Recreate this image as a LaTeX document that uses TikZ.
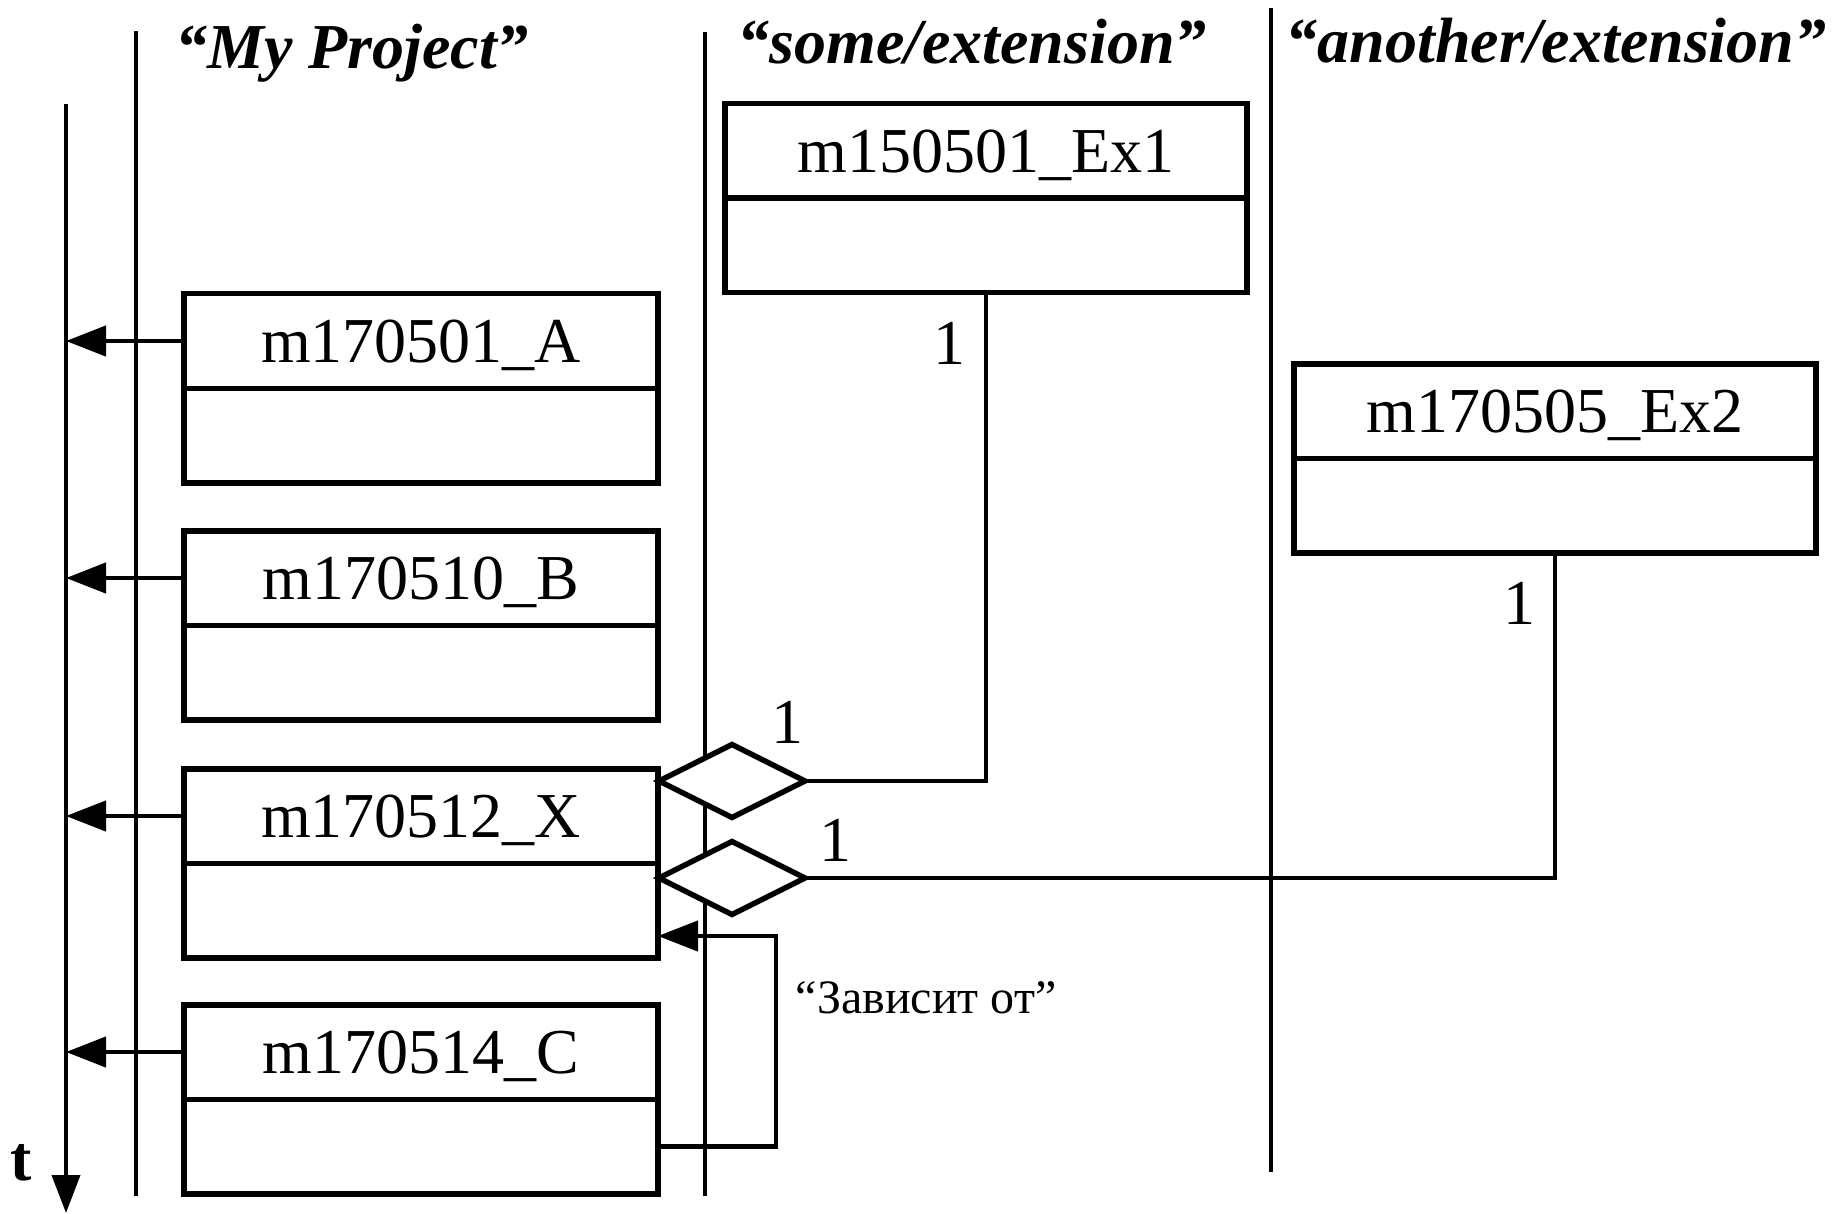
\documentclass[tikz,border=0pt]{standalone}
\usepackage{fontspec}
\setmainfont{Liberation Serif}
\usetikzlibrary{arrows.meta,shapes.geometric,calc}
\begin{document}
\begin{tikzpicture}[x=1pt,y=-1pt,
  part/.style={draw, line width=5.5pt, fill=white, minimum width=474pt, minimum height=94.5pt,
    inner sep=0pt, outer sep=0pt, text height=43pt, text depth=0pt,
    font=\fontsize{64}{70}\selectfont},
  expart/.style={part, minimum width=522pt},
  lane/.style={line width=4pt},
  conn/.style={line width=4.5pt},
  lbl/.style={font=\fontsize{64}{70}\selectfont, inner sep=0pt, anchor=base},
  ttl/.style={font=\fontsize{64}{70}\selectfont\bfseries\itshape, inner sep=0pt, anchor=base},
  dia/.style={draw, diamond, line width=5.5pt, fill=white, minimum width=146pt, minimum height=73pt,
    inner sep=0pt, outer sep=0pt, anchor=west},
  tip/.style={-{Triangle[length=40pt,width=30pt]}}
]
\useasboundingbox (0,0) rectangle (1843,1214);

% lanes
\coordinate (l1a) at (136,31);  \coordinate (l1b) at (136,1196);
\coordinate (l2a) at (705,32);  \coordinate (l2b) at (705,1196);
\coordinate (l3a) at (1271,8);  \coordinate (l3b) at (1271,1172);
\draw[lane] (l1a) -- (l1b);
\draw[lane] (l2a) -- (l2b);
\draw[lane] (l3a) -- (l3b);

% time axis
\coordinate (t0) at (66,104);
\coordinate (t1) at (66,1213);
\draw[lane, -{Triangle[length=38pt,width=28pt]}] (t0) -- (t1);
\node[ttl, font=\fontsize{64}{70}\selectfont\bfseries, anchor=base] (tl) at (21,1180) {t};

% titles
\node[ttl] (tp) at (352,69) {“My Project”};
\node[ttl] (te1) at (972,64) {“some/extension”};
\node[ttl] (te2) at (1556,63) {“another/extension”};

% project boxes
\node[part] (A) at (421,341) {m170501\_A};
\node[part, anchor=north] (Ab) at (A.south) {};
\node[part] (B) at (421,578) {m170510\_B};
\node[part, anchor=north] (Bb) at (B.south) {};
\node[part] (X) at (421,816) {m170512\_X};
\node[part, anchor=north] (Xb) at (X.south) {};
\node[part] (C) at (421,1052) {m170514\_C};
\node[part, anchor=north] (Cb) at (C.south) {};

% extension boxes
\node[expart] (E1) at (986,151) {m150501\_Ex1};
\node[expart, anchor=north] (E1b) at (E1.south) {};
\node[expart] (E2) at (1555,411) {m170505\_Ex2};
\node[expart, anchor=north] (E2b) at (E2.south) {};

% arrows to time axis
\draw[conn, tip] (A.west) -- (A.west -| t0);
\draw[conn, tip] (B.west) -- (B.west -| t0);
\draw[conn, tip] (X.west) -- (X.west -| t0);
\draw[conn, tip] (C.west) -- (C.west -| t0);

% aggregation connectors
\coordinate (d1p) at (659,781);
\coordinate (d2p) at (659,878);
\node[dia] (d1) at (d1p) {};
\node[dia] (d2) at (d2p) {};
\draw[conn] (d1.east) -| (E1b.south);
\draw[conn] (d2.east) -| (E2b.south);

\node[lbl] (n1) at (949,364) {1};
\node[lbl] (n2) at (787,743) {1};
\node[lbl] (n3) at (835,861) {1};
\node[lbl] (n4) at (1519,624) {1};

% dependency
\coordinate (dep) at (658,936);
\draw[conn, tip] (Cb.east) -- ++(118,0) |- (dep);
\node[lbl, font=\fontsize{48}{54}\selectfont] (dl) at (926,1013) {“Зависит от”};
\end{tikzpicture}
\end{document}
